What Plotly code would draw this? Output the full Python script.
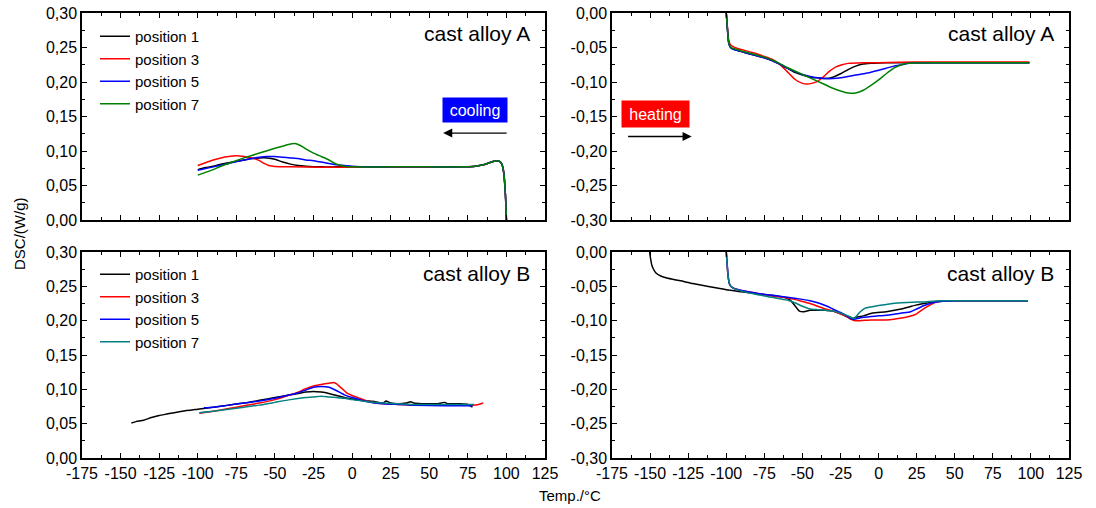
import plotly.graph_objects as go

# ---------------- data ----------------
X_TICKS = [-175, -150, -125, -100, -75, -50, -25, 0, 25, 50, 75, 100, 125]
X_TICK_TEXT = ["-175", "-150", "-125", "-100", "-75", "-50", "-25", "0", "25", "50", "75", "100", "125"]
Y_TICKS_POS = [0.0, 0.05, 0.10, 0.15, 0.20, 0.25, 0.30]
Y_TEXT_POS = ["0,00", "0,05", "0,10", "0,15", "0,20", "0,25", "0,30"]
Y_TICKS_NEG = [-0.30, -0.25, -0.20, -0.15, -0.10, -0.05, 0.0]
Y_TEXT_NEG = ["-0,30", "-0,25", "-0,20", "-0,15", "-0,10", "-0,05", "0,00"]

SERIES_NAMES = ["position 1", "position 3", "position 5", "position 7"]

# cast alloy A, cooling
a_cool_p1_t = [-100, -95, -90, -85, -80, -75, -70, -65, -60, -55, -50, -45, -40, -35, -30, -20, -10, 0, 25, 50, 70, 80, 85, 89, 92, 94, 95.5, 96.5, 97.5, 98.3, 99, 99.5, 100]
a_cool_p1_v = [0.073, 0.076, 0.078, 0.081, 0.083, 0.085, 0.087, 0.089, 0.090, 0.090, 0.088, 0.084, 0.081, 0.079, 0.078, 0.077, 0.077, 0.077, 0.077, 0.077, 0.077, 0.078, 0.080, 0.083, 0.085, 0.086, 0.085, 0.083, 0.078, 0.068, 0.050, 0.030, 0.0]
a_cool_p3_t = [-100, -95, -90, -85, -80, -75, -70, -65, -60, -57, -54, -50, -40, -20, 0, 25, 50, 70, 80, 85, 89, 92, 94, 95.5, 96.5, 97.5, 98.3, 99, 99.5, 100]
a_cool_p3_v = [0.079, 0.083, 0.087, 0.090, 0.092, 0.093, 0.092, 0.090, 0.086, 0.082, 0.079, 0.0775, 0.077, 0.0765, 0.0765, 0.0765, 0.0765, 0.077, 0.078, 0.080, 0.083, 0.085, 0.086, 0.085, 0.083, 0.078, 0.068, 0.050, 0.030, 0.0]
a_cool_p5_t = [-100, -90, -80, -70, -60, -55, -50, -45, -40, -35, -30, -25, -20, -15, -10, -5, 0, 10, 25, 50, 70, 80, 85, 89, 92, 94, 95.5, 96.5, 97.5, 98.3, 99, 99.5, 100]
a_cool_p5_v = [0.072, 0.077, 0.082, 0.087, 0.091, 0.092, 0.092, 0.091, 0.090, 0.089, 0.087, 0.086, 0.084, 0.082, 0.080, 0.079, 0.078, 0.077, 0.077, 0.077, 0.077, 0.078, 0.080, 0.083, 0.085, 0.086, 0.085, 0.083, 0.078, 0.068, 0.050, 0.030, 0.0]
a_cool_p7_t = [-100, -95, -90, -85, -80, -75, -70, -60, -50, -45, -42, -39, -37, -35, -32, -30, -25, -20, -15, -12, -9, -5, 0, 25, 50, 70, 80, 85, 89, 92, 94, 95.5, 96.5, 97.5, 98.3, 99, 99.5, 100]
a_cool_p7_v = [0.065, 0.069, 0.073, 0.078, 0.082, 0.086, 0.090, 0.097, 0.104, 0.107, 0.109, 0.1105, 0.111, 0.1095, 0.106, 0.103, 0.097, 0.092, 0.087, 0.083, 0.080, 0.078, 0.077, 0.077, 0.077, 0.077, 0.078, 0.080, 0.083, 0.085, 0.086, 0.085, 0.083, 0.078, 0.068, 0.050, 0.030, 0.0]

# cast alloy A, heating
a_heat_p1_t = [-100, -99.5, -99, -98.5, -97.5, -96, -93, -90, -85, -80, -75, -70, -65, -60, -55, -50, -45, -40, -35, -30, -25, -20, -15, -10, -5, 0, 10, 25, 50, 75, 99]
a_heat_p1_v = [0.0, -0.015, -0.030, -0.042, -0.049, -0.052, -0.054, -0.056, -0.059, -0.062, -0.065, -0.069, -0.074, -0.080, -0.086, -0.090, -0.093, -0.094, -0.095, -0.093, -0.088, -0.082, -0.077, -0.074, -0.073, -0.0725, -0.072, -0.072, -0.072, -0.072, -0.072]
a_heat_p3_t = [-100, -99.5, -99, -98.5, -97.5, -96, -93, -90, -85, -80, -75, -70, -65, -60, -55, -50, -47, -44, -40, -36, -32, -28, -24, -20, -10, 0, 25, 50, 75, 99]
a_heat_p3_v = [0.0, -0.013, -0.027, -0.038, -0.045, -0.048, -0.051, -0.053, -0.056, -0.059, -0.063, -0.067, -0.074, -0.085, -0.096, -0.102, -0.103, -0.102, -0.099, -0.092, -0.084, -0.078, -0.075, -0.073, -0.072, -0.072, -0.071, -0.071, -0.071, -0.071]
a_heat_p5_t = [-100, -99.5, -99, -98.5, -97.5, -96, -93, -90, -85, -80, -75, -70, -65, -60, -55, -50, -45, -40, -35, -30, -25, -20, -15, -10, -5, 0, 5, 10, 15, 20, 25, 50, 75, 99]
a_heat_p5_v = [0.0, -0.015, -0.030, -0.042, -0.049, -0.052, -0.054, -0.056, -0.059, -0.062, -0.065, -0.069, -0.074, -0.080, -0.085, -0.089, -0.092, -0.094, -0.095, -0.095, -0.094, -0.092, -0.090, -0.088, -0.086, -0.083, -0.080, -0.077, -0.075, -0.073, -0.0725, -0.072, -0.072, -0.072]
a_heat_p7_t = [-100, -99.5, -99, -98.5, -97.5, -96, -93, -90, -85, -80, -75, -70, -65, -60, -55, -50, -45, -40, -35, -30, -25, -20, -15, -10, -5, 0, 5, 10, 15, 20, 25, 50, 75, 99]
a_heat_p7_v = [0.0, -0.014, -0.029, -0.041, -0.048, -0.051, -0.053, -0.055, -0.058, -0.061, -0.064, -0.068, -0.073, -0.079, -0.084, -0.089, -0.094, -0.099, -0.104, -0.109, -0.113, -0.116, -0.116, -0.112, -0.105, -0.097, -0.088, -0.080, -0.075, -0.073, -0.0725, -0.072, -0.072, -0.072]

# cast alloy B, cooling
b_cool_p1_t = [-143, -140, -135, -130, -125, -120, -110, -100, -90, -80, -70, -60, -50, -40, -35, -30, -25, -20, -15, -10, -5, 0, 5, 10, 15, 20, 22, 25, 30, 35, 38, 40, 45, 50, 55, 60, 62, 65, 70, 75, 78]
b_cool_p1_v = [0.051, 0.053, 0.055, 0.059, 0.062, 0.064, 0.068, 0.071, 0.074, 0.077, 0.080, 0.084, 0.088, 0.092, 0.094, 0.096, 0.097, 0.096, 0.094, 0.091, 0.088, 0.086, 0.084, 0.083, 0.082, 0.080, 0.083, 0.080, 0.079, 0.080, 0.082, 0.080, 0.079, 0.079, 0.079, 0.081, 0.079, 0.079, 0.079, 0.078, 0.074]
b_cool_p3_t = [-99, -90, -80, -70, -60, -50, -40, -35, -30, -25, -20, -15, -12, -10, -8, -5, -3, 0, 5, 10, 15, 20, 30, 40, 50, 60, 70, 78, 82, 85]
b_cool_p3_v = [0.065, 0.068, 0.072, 0.076, 0.080, 0.085, 0.092, 0.096, 0.101, 0.105, 0.107, 0.109, 0.110, 0.108, 0.104, 0.098, 0.094, 0.091, 0.087, 0.083, 0.080, 0.079, 0.078, 0.077, 0.077, 0.077, 0.077, 0.077, 0.078, 0.080]
b_cool_p5_t = [-96, -90, -80, -70, -60, -50, -40, -35, -30, -25, -20, -15, -10, -5, 0, 5, 10, 20, 30, 40, 60, 78]
b_cool_p5_v = [0.073, 0.074, 0.077, 0.080, 0.083, 0.087, 0.092, 0.095, 0.099, 0.103, 0.104, 0.103, 0.098, 0.092, 0.088, 0.085, 0.082, 0.079, 0.078, 0.077, 0.076, 0.076]
b_cool_p7_t = [-99, -90, -80, -70, -60, -50, -40, -30, -25, -20, -15, -10, -5, 0, 10, 20, 30, 40, 50, 60, 70, 79]
b_cool_p7_v = [0.066, 0.068, 0.071, 0.074, 0.077, 0.081, 0.085, 0.088, 0.089, 0.090, 0.089, 0.088, 0.087, 0.085, 0.082, 0.080, 0.079, 0.078, 0.078, 0.078, 0.078, 0.078]

# cast alloy B, heating
b_heat_p1_t = [-150.3, -150, -149.5, -149, -148, -146, -143, -139, -130, -122, -110, -100, -90, -80, -70, -62, -58, -55, -52, -49, -45, -35, -30, -25, -21, -18, -15, -10, -4, 5, 14, 20, 25, 31, 35, 40, 50, 75, 98]
b_heat_p1_v = [0.0, -0.005, -0.012, -0.018, -0.024, -0.031, -0.035, -0.038, -0.042, -0.046, -0.051, -0.055, -0.058, -0.061, -0.063, -0.066, -0.070, -0.078, -0.086, -0.087, -0.085, -0.085, -0.086, -0.090, -0.094, -0.098, -0.095, -0.093, -0.089, -0.087, -0.0835, -0.080, -0.077, -0.0745, -0.073, -0.072, -0.071, -0.071, -0.071]
b_heat_p3_t = [-100, -99.5, -99, -98.5, -98, -97, -95, -90, -80, -70, -60, -55, -50, -45, -40, -35, -30, -25, -20, -17, -15, -12, -5, 0, 5, 10, 14, 20, 25, 30, 34, 38, 42, 50, 75, 98]
b_heat_p3_v = [0.0, -0.015, -0.030, -0.040, -0.046, -0.050, -0.053, -0.056, -0.060, -0.064, -0.067, -0.069, -0.072, -0.075, -0.079, -0.083, -0.086, -0.090, -0.095, -0.099, -0.100, -0.100, -0.099, -0.099, -0.099, -0.098, -0.0966, -0.094, -0.090, -0.082, -0.077, -0.073, -0.071, -0.071, -0.071, -0.071]
b_heat_p5_t = [-100, -99.5, -99, -98.5, -98, -97, -95, -90, -80, -70, -60, -50, -45, -40, -35, -30, -25, -20, -17, -14, -10, -5, 0, 7, 15, 21, 25, 30, 36, 40, 50, 75, 98]
b_heat_p5_v = [0.0, -0.015, -0.030, -0.040, -0.046, -0.050, -0.053, -0.056, -0.060, -0.063, -0.066, -0.069, -0.071, -0.074, -0.078, -0.083, -0.088, -0.094, -0.098, -0.097, -0.095, -0.094, -0.093, -0.0917, -0.089, -0.087, -0.083, -0.078, -0.0735, -0.072, -0.071, -0.071, -0.071]
b_heat_p7_t = [-100, -99.5, -99, -98.5, -98, -97, -95, -90, -80, -70, -60, -55, -50, -45, -40, -35, -30, -25, -20, -16, -14, -12, -9, -5, 0, 7, 15, 22, 29, 40, 75, 98]
b_heat_p7_v = [0.0, -0.015, -0.030, -0.040, -0.046, -0.050, -0.053, -0.057, -0.062, -0.066, -0.070, -0.074, -0.079, -0.083, -0.084, -0.085, -0.086, -0.089, -0.093, -0.097, -0.092, -0.087, -0.082, -0.080, -0.078, -0.0757, -0.074, -0.073, -0.0728, -0.071, -0.071, -0.071]

COLORS_A = ["#000000", "#ff0000", "#0000ff", "#008000"]
COLORS_B = ["#000000", "#ff0000", "#0000ff", "#008080"]

# ---------------- figure ----------------
FONT = "Arial, 'Liberation Sans', sans-serif"
fig = go.Figure()

panels = [
    ("x", "y", [(a_cool_p1_t, a_cool_p1_v), (a_cool_p3_t, a_cool_p3_v), (a_cool_p5_t, a_cool_p5_v), (a_cool_p7_t, a_cool_p7_v)], COLORS_A, "legend"),
    ("x2", "y2", [(a_heat_p1_t, a_heat_p1_v), (a_heat_p3_t, a_heat_p3_v), (a_heat_p5_t, a_heat_p5_v), (a_heat_p7_t, a_heat_p7_v)], COLORS_A, None),
    ("x3", "y3", [(b_cool_p1_t, b_cool_p1_v), (b_cool_p3_t, b_cool_p3_v), (b_cool_p5_t, b_cool_p5_v), (b_cool_p7_t, b_cool_p7_v)], COLORS_B, "legend2"),
    ("x4", "y4", [(b_heat_p1_t, b_heat_p1_v), (b_heat_p3_t, b_heat_p3_v), (b_heat_p5_t, b_heat_p5_v), (b_heat_p7_t, b_heat_p7_v)], COLORS_B, None),
]

for xa, ya, series, colors, leg in panels:
    for name, (t, v), c in zip(SERIES_NAMES, series, colors):
        kw = dict(x=t, y=v, mode="lines", name=name, xaxis=xa, yaxis=ya,
                  line=dict(color=c, width=1.5, shape="spline", smoothing=0.5))
        if leg:
            kw["legend"] = leg
            kw["showlegend"] = True
        else:
            kw["showlegend"] = False
        fig.add_trace(go.Scatter(**kw))

XD_L = [82 / 1096, 545 / 1096]
XD_R = [612 / 1096, 1069 / 1096]
YD_T = [1 - 220 / 508, 1 - 13 / 508]
YD_B = [1 - 458 / 508, 1 - 252 / 508]


def xaxis(domain, anchor, labels):
    return dict(domain=domain, anchor=anchor, range=[-175, 125], automargin=False,
                tickmode="array", tickvals=X_TICKS,
                ticktext=X_TICK_TEXT if labels else [""] * len(X_TICKS),
                ticks="inside", ticklen=5, tickwidth=1.2, tickcolor="black",
                minor=dict(tickmode="linear", tick0=-175, dtick=12.5, ticks="inside",
                           ticklen=3, tickwidth=1.2, tickcolor="black"),
                showline=True, linecolor="black", linewidth=1.5, mirror="ticks",
                showgrid=False, zeroline=False,
                tickfont=dict(family=FONT, size=16, color="black"))


def yaxis(domain, anchor, pos):
    return dict(domain=domain, anchor=anchor, automargin=False,
                range=[0, 0.30] if pos else [-0.30, 0],
                tickmode="array", tickvals=Y_TICKS_POS if pos else Y_TICKS_NEG,
                ticktext=Y_TEXT_POS if pos else Y_TEXT_NEG,
                ticks="inside", ticklen=5, tickwidth=1.2, tickcolor="black",
                minor=dict(tickmode="linear", tick0=0, dtick=0.025, ticks="inside",
                           ticklen=3, tickwidth=1.2, tickcolor="black"),
                showline=True, linecolor="black", linewidth=1.5, mirror="ticks",
                showgrid=False, zeroline=False,
                tickfont=dict(family=FONT, size=16, color="black"))


legend_common = dict(xanchor="left", yanchor="top", bgcolor="rgba(0,0,0,0)",
                     borderwidth=0, font=dict(family=FONT, size=15, color="black"),
                     itemclick=False, itemdoubleclick=False)

fig.update_layout(
    width=1096, height=508,
    margin=dict(l=0, r=0, t=0, b=0, autoexpand=False),
    paper_bgcolor="white", plot_bgcolor="white",
    font=dict(family=FONT, color="black"),
    xaxis=xaxis(XD_L, "y", False),
    yaxis=yaxis(YD_T, "x", True),
    xaxis2=xaxis(XD_R, "y2", False),
    yaxis2=yaxis(YD_T, "x2", False),
    xaxis3=xaxis(XD_L, "y3", True),
    yaxis3=yaxis(YD_B, "x3", True),
    xaxis4=xaxis(XD_R, "y4", True),
    yaxis4=yaxis(YD_B, "x4", False),
    legend=dict(x=95 / 1096, y=1 - 20 / 508, **legend_common),
    legend2=dict(x=95 / 1096, y=1 - 258 / 508, **legend_common),
)

ann = []
# panel labels
for xr, yr, txt, yv in [("x", "y", "cast alloy A", 0.271), ("x2", "y2", "cast alloy A", -0.029),
                         ("x3", "y3", "cast alloy B", 0.269), ("x4", "y4", "cast alloy B", -0.031)]:
    ann.append(dict(x=116.5, y=yv, xref=xr, yref=yr, text=txt, showarrow=False,
                    xanchor="right", yanchor="middle",
                    font=dict(family=FONT, size=21, color="black")))

# cooling label + arrow
ann.append(dict(x=79.7, y=0.159, xref="x", yref="y", text="cooling", showarrow=False,
                bgcolor="#0000ff", width=64, height=24, borderpad=0,
                font=dict(family=FONT, size=16, color="white")))
ann.append(dict(x=59.0, y=0.126, ax=101.1, ay=0.126, xref="x", yref="y", axref="x", ayref="y",
                text="", showarrow=True, arrowhead=2, arrowsize=1.4, arrowwidth=1.3,
                arrowcolor="black", standoff=0, startstandoff=0))
# heating label + arrow
ann.append(dict(x=-146.4, y=-0.1464, xref="x2", yref="y2", text="heating", showarrow=False,
                bgcolor="#ff0000", width=67, height=26, borderpad=0,
                font=dict(family=FONT, size=16, color="white")))
ann.append(dict(x=-122.7, y=-0.179, ax=-165.4, ay=-0.179, xref="x2", yref="y2", axref="x2", ayref="y2",
                text="", showarrow=True, arrowhead=2, arrowsize=1.4, arrowwidth=1.3,
                arrowcolor="black", standoff=0, startstandoff=0))
# axis titles
ann.append(dict(x=19 / 1096, y=1 - 234 / 508, xref="paper", yref="paper", text="DSC/(W/g)",
                textangle=-90, showarrow=False, xanchor="center", yanchor="middle",
                font=dict(family=FONT, size=15, color="black")))
ann.append(dict(x=570 / 1096, y=1 - 495 / 508, xref="paper", yref="paper", text="Temp./°C",
                showarrow=False, xanchor="center", yanchor="middle",
                font=dict(family=FONT, size=15, color="black")))

fig.update_layout(annotations=ann)
fig.write_html("out.html", config={"displayModeBar": False},
               post_script="document.body.style.margin='0';document.body.style.overflow='hidden';")
